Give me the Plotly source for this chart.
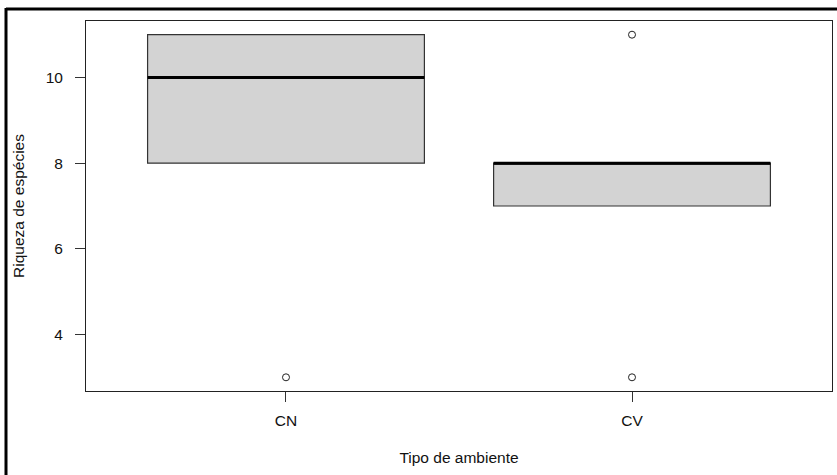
import plotly.graph_objects as go

# Species richness summary by environment type
categories = ["CN", "CV"]
q1 = [8, 7]
medians = [10, 8]
q3 = [11, 8]
lower_whisker = [8, 7]
upper_whisker = [11, 8]
outlier_x = ["CN", "CV", "CV"]
outlier_y = [3, 11, 3]

positions = {c: i + 1 for i, c in enumerate(categories)}
box_width = 0.8

fig = go.Figure()

for i, cat in enumerate(categories):
    fig.add_trace(go.Box(
        x=[positions[cat]],
        q1=[q1[i]], median=[medians[i]], q3=[q3[i]],
        lowerfence=[lower_whisker[i]], upperfence=[upper_whisker[i]],
        width=box_width,
        fillcolor="#D3D3D3",
        line=dict(color="#333333", width=1.2),
        boxpoints=False,
        showlegend=False,
        hoverinfo="skip",
    ))
    # heavy median bar, as in base-graphics boxplots
    p = positions[cat]
    fig.add_trace(go.Scatter(
        x=[p - box_width / 2, p + box_width / 2],
        y=[medians[i], medians[i]],
        mode="lines",
        line=dict(color="black", width=3),
        showlegend=False,
        hoverinfo="skip",
    ))

fig.add_trace(go.Scatter(
    x=[positions[c] for c in outlier_x],
    y=outlier_y,
    mode="markers",
    marker=dict(symbol="circle-open", size=7, color="#222222", line=dict(width=1)),
    showlegend=False,
    hoverinfo="skip",
))

font = dict(family="Liberation Sans, Arial, sans-serif", size=15.5, color="#111111")

fig.update_layout(
    width=837, height=475,
    margin=dict(l=86, r=5, t=21, b=84),
    paper_bgcolor="white",
    plot_bgcolor="white",
    font=font,
    xaxis=dict(
        range=[0.422, 2.578],
        tickvals=[positions[c] for c in categories],
        ticktext=categories,
        ticks="outside", ticklen=10, tickcolor="#333333", tickwidth=1,
        ticklabelstandoff=5,
        showgrid=False, zeroline=False,
        showline=True, mirror=True, linecolor="#222222", linewidth=1,
        title=dict(text="Tipo de ambiente", standoff=24, font=font),
    ),
    yaxis=dict(
        range=[2.68, 11.32],
        tickvals=[4, 6, 8, 10],
        ticks="outside", ticklen=10, tickcolor="#333333", tickwidth=1,
        ticklabelstandoff=9,
        showgrid=False, zeroline=False,
        showline=True, mirror=True, linecolor="#222222", linewidth=1,
        title=dict(text="Riqueza de espécies", standoff=17, font=font),
    ),
    shapes=[
        # outer frame: top edge and left edge
        dict(type="line", xref="paper", yref="paper",
             x0=(6 - 86) / 746, x1=(850 - 86) / 746,
             y0=(391 - 9) / 370, y1=(391 - 9) / 370,
             line=dict(color="black", width=3)),
        dict(type="line", xref="paper", yref="paper",
             x0=(6 - 86) / 746, x1=(6 - 86) / 746,
             y0=(391 - 8) / 370, y1=(391 - 490) / 370,
             line=dict(color="black", width=3)),
    ],
)

fig.write_html("out.html")
